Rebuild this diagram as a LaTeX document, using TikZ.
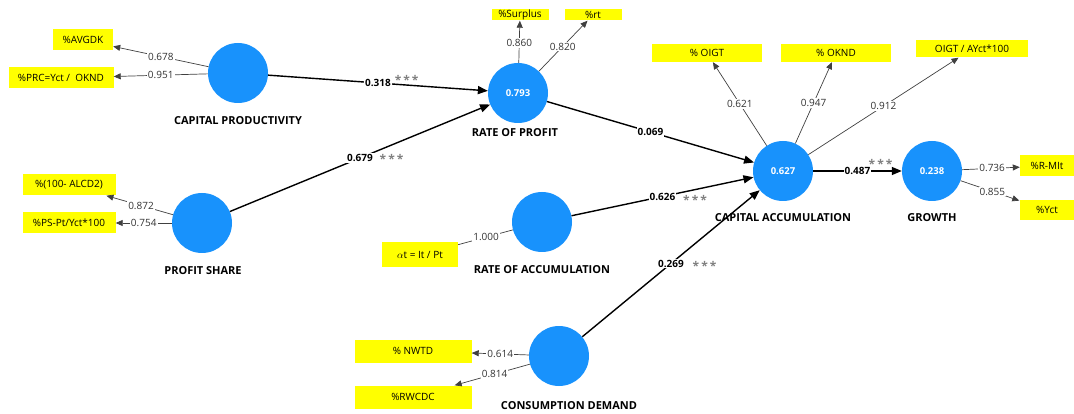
\documentclass[tikz,border=0pt]{standalone}
\usepackage{fontspec}
\setmainfont{Open Sans}
\usetikzlibrary{arrows.meta}
\definecolor{lvblue}{RGB}{24,146,252}
\definecolor{indy}{RGB}{255,255,0}
\begin{document}
\begin{tikzpicture}[x=1pt,y=-1pt,
  lv/.style={circle,fill=lvblue,minimum size=60pt,inner sep=0pt,text=white,font=\bfseries\fontsize{9.5}{10}\selectfont},
  lvname/.style={font=\bfseries\fontsize{11}{12}\selectfont,inner sep=1pt},
  ind/.style={fill=indy,inner sep=0pt,font=\fontsize{10}{11}\selectfont},
  load/.style={draw=black!75,line width=0.7pt,-{Triangle[length=7pt,width=6pt]}},
  plain/.style={draw=black!75,line width=0.7pt},
  lw/.style={fill=white,inner sep=1pt,font=\fontsize{10}{11}\selectfont,text=black!80},
  pth/.style={draw=black,line width=1.4pt,-{Triangle[length=10pt,width=8pt]}},
  pw/.style={fill=white,inner sep=1pt,font=\bfseries\fontsize{10}{11}\selectfont},
  stars/.style={text=black!50,inner sep=1pt,font=\bfseries\fontsize{12}{12}\selectfont}]
\useasboundingbox (0,0) rectangle (1074,414);

% latent variables
\node[lv] (cp) at (238,73) {};
\node[lvname] (cpn) at (238,121) {CAPITAL PRODUCTIVITY};
\node[lv] (ps) at (202,223) {};
\node[lvname] (psn) at (203,271) {PROFIT SHARE};
\node[lv] (rp) at (518,93) {0.793};
\node[lvname] (rpn) at (515,133) {RATE OF PROFIT};
\node[lv] (ca) at (783,171) {0.627};
\node[lvname] (can) at (783,218) {CAPITAL ACCUMULATION};
\node[lv] (gr) at (932,171) {0.238};
\node[lvname] (grn) at (932,218) {GROWTH};
\node[lv] (ra) at (542,222) {};
\node[lvname] (ran) at (542,270) {RATE OF ACCUMULATION};
\node[lv] (cd) at (559,356) {};
\node[lvname] (cdn) at (569,406) {CONSUMPTION DEMAND};

% indicators
\node[ind,minimum width=60pt,minimum height=21pt] (avgdk) at (83,40) {\%AVGDK};
\node[ind,minimum width=105pt,minimum height=21pt] (prc) at (61,78) {\%PRC=Yct /\ \ OKND};
\node[ind,minimum width=93pt,minimum height=21pt] (alcd) at (69,185) {\%(100- ALCD2)};
\node[ind,minimum width=93pt,minimum height=21pt] (pspt) at (69,223) {\%PS-Pt/Yct*100};
\node[ind,minimum width=57pt,minimum height=11pt] (surplus) at (520,15) {\%Surplus};
\node[ind,minimum width=57pt,minimum height=11pt] (rt) at (593,15) {\%rt};
\node[ind,minimum width=110pt,minimum height=18pt] (oigt) at (707,53) {\% OIGT};
\node[ind,minimum width=110pt,minimum height=18pt] (oknd) at (836,53) {\% OKND};
\node[ind,minimum width=112pt,minimum height=17pt] (oigtay) at (972,49) {OIGT / AYct*100};
\node[ind,minimum width=54pt,minimum height=21pt] (rmit) at (1047,166) {\%R-MIt};
\node[ind,minimum width=55pt,minimum height=20pt] (yct) at (1047,210) {\%Yct};
\node[ind,minimum width=76pt,minimum height=25pt] (alpha) at (420,255) {$\alpha$t = It / Pt};
\node[ind,minimum width=117pt,minimum height=23pt] (nwtd) at (413,351) {\% NWTD};
\node[ind,minimum width=117pt,minimum height=23pt] (rwcdc) at (413,397) {\%RWCDC};

% outer loadings
\draw[load] (cp) -- node[lw,pos=0.5] {0.678} (avgdk);
\draw[load] (cp) -- node[lw,pos=0.5] {0.951} (prc);
\draw[load] (ps) -- node[lw,pos=0.48] {0.872} (alcd);
\draw[load] (ps) -- node[lw,pos=0.5] {0.754} (pspt);
\draw[load] (rp) -- node[lw,pos=0.47] {0.860} (surplus);
\draw[load] (rp) -- node[lw,pos=0.49] {0.820} (rt);
\draw[load] (ca) -- node[lw,pos=0.5] {0.621} (oigt);
\draw[load] (ca) -- node[lw,pos=0.5] {0.947} (oknd);
\draw[load] (ca) -- node[lw,pos=0.5] {0.912} (oigtay);
\draw[load] (gr) -- node[lw,pos=0.52] {0.736} (rmit);
\draw[load] (gr) -- node[lw,pos=0.54] {0.855} (yct);
\draw[plain] (ra) -- node[lw,pos=0.49] {1.000} (alpha);
\draw[load] (cd) -- node[lw,pos=0.5] {0.614} (nwtd);
\draw[load] (cd) -- node[lw,pos=0.47] {0.814} (rwcdc);

% structural paths
\draw[pth] (cp) -- node[pw,pos=0.5] (l1) {0.318} node[stars,pos=0.63,anchor=south,yshift=-1pt] (s1) {*\,*\,*} (rp);
\draw[pth] (ps) -- node[pw,pos=0.5] (l2) {0.679} (rp);
\node[stars,anchor=west] (s2) at ([xshift=4pt,yshift=-1pt]l2.east) {*\,*\,*};
\draw[pth] (rp) -- node[pw,pos=0.5] (l3) {0.069} (ca);
\draw[pth] (ra) -- node[pw,pos=0.5] (l4) {0.626} (ca);
\node[stars,anchor=west] (s4) at ([xshift=5pt,yshift=-3pt]l4.east) {*\,*\,*};
\draw[pth] (cd) -- node[pw,pos=0.5] (l5) {0.269} (ca);
\node[stars,anchor=west] (s5) at ([xshift=6pt,yshift=-2pt]l5.east) {*\,*\,*};
\draw[pth] (ca) -- node[pw,pos=0.5] (l6) {0.487} node[stars,pos=0.76,anchor=south,yshift=1pt] (s6) {*\,*\,*} (gr);
\end{tikzpicture}
\end{document}
